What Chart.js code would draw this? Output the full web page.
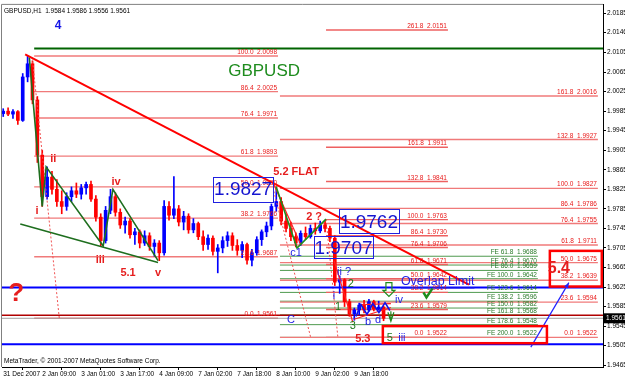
<!DOCTYPE html>
<html>
<head>
<meta charset="utf-8">
<script src="https://cdn.jsdelivr.net/npm/chart.js@4.4.0/dist/chart.umd.min.js"></script>
<style>
html,body{margin:0;padding:0;background:#fff;}
canvas{display:block;}
</style>
</head>
<body>
<canvas id="chart" width="625" height="379"></canvas>
<script>
//GBPUSD H1 bars (two-hour steps)
const barOpen  = [1.9980,1.9985,1.9979,1.9984,1.9966,2.0055,2.0082,2.0008,1.9895,1.9810,1.9850,1.9825,1.9800,1.9790,1.9810,1.9822,1.9815,1.9828,1.9835,1.9805,1.9768,1.9720,1.9782,1.9810,1.9778,1.9752,1.9760,1.9732,1.9738,1.9715,1.9730,1.9708,1.9715,1.9695,1.9790,1.9772,1.9785,1.9758,1.9770,1.9742,1.9755,1.9728,1.9712,1.9725,1.9698,1.9705,1.9720,1.9730,1.9710,1.9700,1.9712,1.9680,1.9695,1.9722,1.9738,1.9750,1.9790,1.9800,1.9760,1.9745,1.9728,1.9715,1.9735,1.9728,1.9745,1.9740,1.9752,1.9745,1.9725,1.9635,1.9640,1.9595,1.9570,1.9578,1.9588,1.9578,1.9595,1.9580,1.9584];
const barHigh  = [1.9990,1.9992,1.9988,1.9986,2.0062,2.0098,2.0088,2.0015,1.9905,1.9871,1.9862,1.9845,1.9822,1.9818,1.9830,1.9838,1.9835,1.9840,1.9842,1.9812,1.9775,1.9790,1.9825,1.9818,1.9785,1.9768,1.9765,1.9745,1.9742,1.9740,1.9736,1.9722,1.9720,1.9802,1.9800,1.9851,1.9792,1.9780,1.9775,1.9765,1.9758,1.9740,1.9732,1.9730,1.9712,1.9728,1.9738,1.9736,1.9722,1.9718,1.9715,1.9702,1.9728,1.9742,1.9758,1.9795,1.9827,1.9808,1.9775,1.9758,1.9736,1.9740,1.9748,1.9752,1.9756,1.9760,1.9762,1.9750,1.9730,1.9648,1.9642,1.9600,1.9582,1.9592,1.9598,1.9600,1.9598,1.9596,1.9586];
const barLow   = [1.9974,1.9976,1.9970,1.9958,1.9964,2.0045,2.0000,1.9880,1.9790,1.9805,1.9815,1.9790,1.9775,1.9782,1.9800,1.9808,1.9805,1.9815,1.9800,1.9760,1.9709,1.9715,1.9775,1.9770,1.9745,1.9735,1.9725,1.9712,1.9705,1.9710,1.9700,1.9688,1.9679,1.9690,1.9762,1.9765,1.9750,1.9742,1.9735,1.9736,1.9722,1.9700,1.9702,1.9690,1.9654,1.9695,1.9708,1.9700,1.9690,1.9685,1.9672,1.9668,1.9690,1.9710,1.9728,1.9742,1.9780,1.9752,1.9738,1.9720,1.9707,1.9710,1.9722,1.9725,1.9733,1.9736,1.9738,1.9718,1.9628,1.9612,1.9585,1.9565,1.9557,1.9568,1.9572,1.9575,1.9576,1.9578,1.9556];
const barClose = [1.9985,1.9979,1.9984,1.9966,2.0055,2.0082,2.0008,1.9895,1.9810,1.9850,1.9825,1.9800,1.9790,1.9810,1.9822,1.9815,1.9828,1.9835,1.9805,1.9768,1.9720,1.9782,1.9810,1.9778,1.9752,1.9760,1.9732,1.9738,1.9715,1.9730,1.9708,1.9715,1.9695,1.9790,1.9772,1.9785,1.9758,1.9770,1.9742,1.9755,1.9728,1.9712,1.9725,1.9698,1.9705,1.9720,1.9730,1.9710,1.9700,1.9712,1.9680,1.9695,1.9722,1.9738,1.9750,1.9790,1.9800,1.9760,1.9745,1.9728,1.9715,1.9735,1.9728,1.9745,1.9740,1.9752,1.9745,1.9725,1.9635,1.9640,1.9595,1.9570,1.9578,1.9588,1.9578,1.9595,1.9580,1.9584,1.9561];
const barHours = barOpen.map((v, i) => i * 2);

const xTickHours  = [0,16,32,48,64,80,96,112,128,144];
const xTickLabels = ["31 Dec 2007","2 Jan 09:00","3 Jan 01:00","3 Jan 17:00","4 Jan 09:00","7 Jan 02:00","7 Jan 18:00","8 Jan 10:00","9 Jan 02:00","9 Jan 18:00"];
const yTickLabels = ["2.0185","2.0146","2.0105","2.0065","2.0025","1.9985","1.9945","1.9905","1.9865","1.9825","1.9785","1.9745","1.9705","1.9665","1.9625","1.9585","1.9545","1.9505","1.9465"];

//fibonacci tools
const fibALevels = ["100.0","86.4","76.4","61.8","50.0","38.2","23.6","0.0"];
const fibAPrices = [2.0098,2.0025,1.9971,1.9893,1.9830,1.9766,1.9687,1.9561];
const fibBLevels = ["161.8","132.8","100.0","86.4","76.4","61.8","50.0","38.2","23.6","0.0"];
const fibBPrices = [2.0016,1.9927,1.9827,1.9786,1.9755,1.9711,1.9675,1.9639,1.9594,1.9522];
const fibCLevels = ["261.8","161.8","132.8","100.0","86.4","76.4","61.8","50.0","38.2","23.6","0.0"];
const fibCPrices = [2.0151,1.9911,1.9841,1.9763,1.9730,1.9706,1.9671,1.9642,1.9614,1.9579,1.9522];
const feLevels = ["61.8","76.4","86.0","100.0","123.6","138.2","150.0","161.8","178.6","200.0"];
const fePrices = [1.9688,1.9670,1.9659,1.9642,1.9614,1.9596,1.9582,1.9568,1.9548,1.9522];

//wave counts
const waveHours = [10.7,16,17.6,41,45,63.5];
const wavePrices = [2.0095,1.9790,1.9871,1.9709,1.9825,1.9679];
const wedgeHours = [7,63.5];
const wedgePrices = [1.9754,1.9675];
const flatHours = [111.9,120.5,132.4];
const flatPrices = [1.9831,1.9705,1.9764];
const trendHours = [9,191];
const trendPrices = [2.0101,1.9630];
const triHours = [144.7,146.7,149.2,151.6,154.1,156.6,158.6];
const triPrices = [1.9565,1.9589,1.9569,1.9591,1.9573,1.9593,1.9577];

const overlapLimit = 1.9624;
const lowerLimit = 1.9508;
const topLevel = 2.0113;
const pivotLevel = 1.9567;
const bidPrice = 1.9561;

const X_MIN = -0.5, X_MAX = 246;
const FONT = "'Liberation Sans', Arial, sans-serif";

const upColor = "#0000ff", downColor = "#ff0000";
const barColors = barOpen.map((o, i) => barClose[i] >= o ? upColor : downColor);

const seg = (x1, y1, x2, y2, color, width, dash, order) => ({
    type: "line",
    data: [{x: x1, y: y1}, {x: x2, y: y2}],
    borderColor: color,
    borderWidth: width,
    borderDash: dash || [],
    pointRadius: 0,
    fill: false,
    order: order,
});
const path = (hs, ps, color, width, order) => ({
    type: "line",
    data: hs.map((h, i) => ({x: h, y: ps[i]})),
    borderColor: color,
    borderWidth: width,
    pointRadius: 0,
    fill: false,
    tension: 0,
    order: order,
});

//fib tools: span in hours and colours
const fibSets = [
    {levels: fibALevels, prices: fibAPrices, from: 12.7, to: 112.7, line: "#f07a7a", text: "#e81818"},
    {levels: fibBLevels, prices: fibBPrices, from: 113.5, to: 243.9, line: "#f07a7a", text: "#e81818"},
    {levels: fibCLevels, prices: fibCPrices, from: 132.4, to: 182.4, line: "#ee6060", text: "#e81818"},
    {levels: feLevels, prices: fePrices, from: 113.5, to: 219.3, line: "#4f9a4f", text: "#2a7a2a", prefix: "FE "},
];

const datasets = [];
fibSets.forEach(f => {
    f.prices.forEach(p => datasets.push(seg(f.from, p, f.to, p, f.line, f.prefix ? 1 : 1.4, null, 20)));
});
datasets.push(seg(X_MIN, overlapLimit, X_MAX, overlapLimit, "#0000ff", 2, null, 2));
datasets.push(seg(X_MIN, lowerLimit, X_MAX, lowerLimit, "#0000ff", 2, null, 2));
datasets.push(seg(12.7, topLevel, X_MAX, topLevel, "#006400", 2, null, 2));
datasets.push(seg(X_MIN, pivotLevel, X_MAX, pivotLevel, "#b00000", 1.5, null, 15));
datasets.push(seg(X_MIN, bidPrice, X_MAX, bidPrice, "#a0a0a0", 1, null, 15));

//candles
datasets.push({
    type: "bar",
    data: barHours.map((h, i) => ({x: h, y: [barLow[i], barHigh[i]]})),
    backgroundColor: barColors,
    barThickness: 1,
    grouped: false,
    order: 6,
});
datasets.push({
    type: "bar",
    data: barHours.map((h, i) => ({x: h, y: [Math.min(barOpen[i], barClose[i]), Math.max(barOpen[i], barClose[i])]})),
    backgroundColor: barColors,
    barThickness: 3,
    minBarLength: 1,
    grouped: false,
    order: 5,
});

//trend and wave lines
datasets.push(path(trendHours, trendPrices, "#ff0000", 2, 1));
datasets.push(path(waveHours, wavePrices, "#1e6e1e", 1.6, 1));
datasets.push(path(wedgeHours, wedgePrices, "#1e6e1e", 1.6, 1));
datasets.push(path(flatHours, flatPrices, "#1e8c1e", 1.6, 1));
datasets.push(path(triHours, triPrices, "#1010ee", 1.6, 1));
datasets.push(seg(11.9, 2.0095, 23, 1.9561, "#f05050", 1, [2, 2], 3));
datasets.push(seg(111, 1.9821, 126.2, 1.9520, "#f05050", 1, [2, 2], 3));
datasets.push(seg(132.4, 1.9764, 137.3, 1.9520, "#f05050", 1, [2, 2], 3));
datasets.push(seg(111, 1.9835, 122.1, 1.9711, "#ff2020", 1.2, null, 1));
datasets.push(seg(135.7, 1.9679, 143.4, 1.9553, "#ff2020", 1.2, null, 1));
datasets.push(seg(143.9, 1.9559, 159, 1.9583, "#ff2020", 1.2, null, 1));
datasets.push(seg(146.7, 1.9589, 159, 1.9591, "#ff2020", 1.2, null, 1));
datasets.push(seg(216.4, 1.9502, 232, 1.9634, "#2020ff", 1.2, null, 1));

//text marks
const styles = {
    blueB: ["bold 12px", "#1414e6"],
    name: ["17px", "#1e8c1e"],
    redB: ["bold 11px", "#e61e1e"],
    redBig: ["bold 26px", "#e61e1e"],
    redL: ["bold 16px", "#e61e1e"],
    blue: ["11px", "#1e1ee6"],
    green: ["11px", "#1e7a1e"],
};
const notes = [
    {t: "4", h: 22.5, p: 2.0160, s: "blueB"},
    {t: "GBPUSD", h: 107, p: 2.0066, s: "name"},
    {t: "ii", h: 20.5, p: 1.9888, s: "redB"},
    {t: "i", h: 13.9, p: 1.9780, s: "redB"},
    {t: "iv", h: 46.3, p: 1.9841, s: "redB"},
    {t: "iii", h: 39.8, p: 1.9681, s: "redB"},
    {t: "5.1", h: 51.2, p: 1.9654, s: "redB"},
    {t: "v", h: 63.5, p: 1.9654, s: "redB"},
    {t: "?", h: 5.3, p: 1.9612, s: "redBig"},
    {t: "5.2 FLAT", h: 120.1, p: 1.9861, s: "redB"},
    {t: "2 ?", h: 127.5, p: 1.9768, s: "redB"},
    {t: "c1", h: 120.1, p: 1.9695, s: "blue"},
    {t: "ii ?", h: 139.8, p: 1.9656, s: "blue"},
    {t: "2", h: 142.6, p: 1.9632, s: "green"},
    {t: "i", h: 135.7, p: 1.9606, s: "blue"},
    {t: "1", h: 137.3, p: 1.9585, s: "green"},
    {t: "3", h: 143.4, p: 1.9545, s: "green"},
    {t: "b", h: 149.6, p: 1.9553, s: "blue"},
    {t: "d", h: 153.7, p: 1.9557, s: "blue"},
    {t: "iv", h: 162.3, p: 1.9599, s: "blue"},
    {t: "C", h: 118, p: 1.9557, s: "blue"},
    {t: "5.3", h: 147.5, p: 1.9518, s: "redB"},
    {t: "5", h: 158.6, p: 1.9520, s: "green"},
    {t: "iii", h: 163.5, p: 1.9520, s: "blue"},
    {t: "5.4", h: 227.9, p: 1.9662, s: "redL"},
];
const valueBoxes = [
    {t: "1.9827", h1: 86.1, h2: 110.7, p1: 1.9851, p2: 1.9800},
    {t: "1.9762", h1: 137.7, h2: 162.3, p1: 1.9784, p2: 1.9735},
    {t: "1.9707", h1: 127.5, h2: 151.6, p1: 1.9729, p2: 1.9683},
];
const targetBoxes = [
    {h1: 155.7, h2: 223, p1: 1.9545, p2: 1.9510},
    {h1: 224.2, h2: 245.5, p1: 1.9699, p2: 1.9626},
];

const overlay = {
    id: "overlay",
    afterDatasetsDraw(chart) {
        const {ctx, chartArea: a, scales} = chart;
        const X = v => scales.x.getPixelForValue(v);
        const Y = v => scales.y.getPixelForValue(v);
        ctx.save();
        ctx.beginPath();
        ctx.rect(a.left, a.top, a.width, a.height);
        ctx.clip();

        //fib level labels
        ctx.font = "6.5px " + FONT;
        ctx.textAlign = "right";
        ctx.textBaseline = "bottom";
        fibSets.forEach(f => {
            ctx.fillStyle = f.text;
            f.levels.forEach((l, i) => {
                ctx.fillText((f.prefix || "") + l + "  " + f.prices[i].toFixed(4), X(f.to) - 1, Y(f.prices[i]) - 0.5);
            });
        });

        //boxes
        ctx.lineWidth = 1;
        ctx.strokeStyle = "#2020e0";
        ctx.textAlign = "center";
        ctx.textBaseline = "middle";
        valueBoxes.forEach(b => {
            const x1 = X(b.h1), x2 = X(b.h2), y1 = Y(b.p1), y2 = Y(b.p2);
            ctx.strokeRect(Math.round(x1) + 0.5, Math.round(y1) + 0.5, Math.round(x2 - x1), Math.round(y2 - y1));
            ctx.font = "19px " + FONT;
            ctx.fillStyle = "#1515d0";
            ctx.fillText(b.t, (x1 + x2) / 2, (y1 + y2) / 2 + 1);
        });
        ctx.lineWidth = 2.5;
        ctx.strokeStyle = "#ff0000";
        targetBoxes.forEach(b => {
            ctx.strokeRect(X(b.h1), Y(b.p1), X(b.h2) - X(b.h1), Y(b.p2) - Y(b.p1));
        });

        //text marks
        notes.forEach(n => {
            ctx.font = styles[n.s][0] + " " + FONT;
            ctx.fillStyle = styles[n.s][1];
            ctx.fillText(n.t, X(n.h), Y(n.p));
        });

        //overlap limit caption
        ctx.font = "12.5px " + FONT;
        ctx.fillStyle = "#1e1ee6";
        ctx.textAlign = "left";
        const ox = X(163.1), oy = Y(overlapLimit) - 6;
        ctx.fillText("Overlap Limit", ox, oy);
        const ow = ctx.measureText("Overlap Limit").width;
        ctx.fillRect(ox, oy + 6, ow, 1);

        //arrow head on projection line
        const ax = X(232), ay = Y(1.9634);
        const ang = Math.atan2(ay - Y(1.9502), ax - X(216.4));
        ctx.fillStyle = "#2020ff";
        ctx.beginPath();
        ctx.moveTo(ax, ay);
        ctx.lineTo(ax - 6 * Math.cos(ang - 0.4), ay - 6 * Math.sin(ang - 0.4));
        ctx.lineTo(ax - 6 * Math.cos(ang + 0.4), ay - 6 * Math.sin(ang + 0.4));
        ctx.closePath();
        ctx.fill();

        //hollow down arrow, check mark, small arrow
        const gx = X(158.2), gt = Y(1.9634), gb = Y(1.9606);
        ctx.strokeStyle = "#1e8c1e";
        ctx.lineWidth = 1.2;
        ctx.beginPath();
        ctx.moveTo(gx - 3, gt);
        ctx.lineTo(gx + 3, gt);
        ctx.lineTo(gx + 3, gb - 6);
        ctx.lineTo(gx + 6, gb - 6);
        ctx.lineTo(gx, gb);
        ctx.lineTo(gx - 6, gb - 6);
        ctx.lineTo(gx - 3, gb - 6);
        ctx.closePath();
        ctx.stroke();
        const cx = X(174), cy = Y(1.9610);
        ctx.lineWidth = 2.5;
        ctx.beginPath();
        ctx.moveTo(cx - 4, cy - 2);
        ctx.lineTo(cx - 1, cy + 3);
        ctx.lineTo(cx + 5, cy - 6);
        ctx.stroke();
        const sx = X(159), sy = Y(1.9561);
        ctx.lineWidth = 1.2;
        ctx.beginPath();
        ctx.moveTo(sx - 3, sy - 6);
        ctx.lineTo(sx, sy + 3);
        ctx.lineTo(sx + 3, sy - 6);
        ctx.moveTo(sx, sy + 3);
        ctx.lineTo(sx, sy - 7);
        ctx.stroke();

        //header and footer
        ctx.fillStyle = "#000";
        ctx.font = "6.5px " + FONT;
        ctx.textAlign = "left";
        ctx.textBaseline = "middle";
        ctx.fillText("GBPUSD,H1  1.9584 1.9586 1.9556 1.9561", a.left + 2, a.top + 6);
        ctx.fillText("MetaTrader, \u00a9 2001-2007 MetaQuotes Software Corp.", a.left + 2, a.bottom - 6);
        ctx.restore();

        //frame and bid tag
        ctx.save();
        ctx.strokeStyle = "#808080";
        ctx.lineWidth = 1;
        ctx.beginPath();
        ctx.moveTo(a.left - 0.5, a.bottom);
        ctx.lineTo(a.left - 0.5, a.top - 0.5);
        ctx.lineTo(a.right, a.top - 0.5);
        ctx.stroke();
        const by = Y(bidPrice);
        ctx.fillStyle = "#000";
        ctx.fillRect(a.right + 1, by - 5, 21, 10);
        ctx.fillStyle = "#fff";
        ctx.font = "6.5px " + FONT;
        ctx.textAlign = "left";
        ctx.textBaseline = "middle";
        ctx.fillText(bidPrice.toFixed(4), a.right + 3, by);
        ctx.restore();
    },
};

new Chart(document.getElementById("chart"), {
    type: "bar",
    data: {datasets: datasets},
    options: {
        responsive: false,
        animation: false,
        devicePixelRatio: 1,
        layout: {padding: {left: 2, top: 2, right: 0, bottom: 0}},
        plugins: {legend: {display: false}, tooltip: {enabled: false}},
        scales: {
            x: {
                type: "linear",
                min: X_MIN,
                max: X_MAX,
                offset: false,
                afterBuildTicks: s => { s.ticks = xTickHours.map(v => ({value: v})); },
                afterFit: s => { s.height = 12; },
                ticks: {
                    autoSkip: false,
                    maxRotation: 0,
                    minRotation: 0,
                    align: "start",
                    padding: 0,
                    color: "#000",
                    font: {family: FONT, size: 6.5},
                    callback: (v, i) => xTickLabels[i],
                },
                grid: {drawOnChartArea: false, tickLength: 3, color: "#000"},
                border: {color: "#000"},
            },
            y: {
                position: "right",
                min: 1.94613,
                max: 2.02025,
                afterBuildTicks: s => { s.ticks = yTickLabels.map(v => ({value: parseFloat(v)})); },
                afterFit: s => { s.width = 22; },
                ticks: {
                    autoSkip: false,
                    padding: 1,
                    color: "#000",
                    font: {family: FONT, size: 6.5},
                    callback: (v, i) => yTickLabels[i],
                },
                grid: {drawOnChartArea: false, tickLength: 3, color: "#000"},
                border: {color: "#000"},
            },
        },
    },
    plugins: [overlay],
});
</script>
</body>
</html>
